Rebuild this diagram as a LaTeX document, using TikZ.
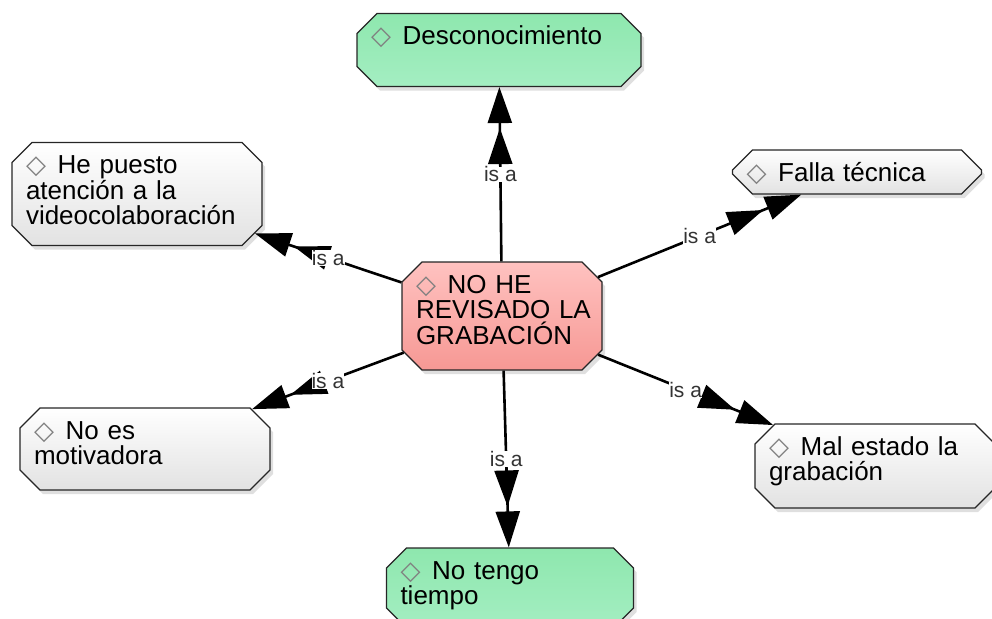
\documentclass[tikz,border=0pt]{standalone}
\usepackage{fontspec}
\setmainfont{Liberation Sans}
\newfontfamily\diafont{DejaVu Sans}
\usepackage{xcolor}
\usetikzlibrary{arrows.meta,shapes.misc,shadows}

\definecolor{grtop}{RGB}{142,231,174}
\definecolor{grbot}{RGB}{164,238,194}
\definecolor{rdtop}{RGB}{255,194,192}
\definecolor{rdbot}{RGB}{246,152,148}
\definecolor{wttop}{RGB}{255,255,255}
\definecolor{wtbot}{RGB}{226,226,226}
\newcommand{\dia}{{\diafont\color{gray}\char"25C7}\hspace{0.45em}}

\begin{document}
\begin{tikzpicture}[x=0.5pt,y=-0.5pt,
  concept/.style={chamfered rectangle, chamfered rectangle xsep=5pt,
    chamfered rectangle ysep=5pt, draw=black!85, line width=0.6pt,
    inner xsep=2pt, inner ysep=0.5pt, align=left, text height=10pt,
    font=\fontsize{13}{12.8}\selectfont,
    drop shadow={shadow xshift=1.5pt, shadow yshift=-2pt, opacity=0.25}},
  greenbox/.style={concept, top color=grtop, bottom color=grbot},
  redbox/.style={concept, top color=rdtop, bottom color=rdbot},
  greybox/.style={concept, top color=wttop, bottom color=wtbot},
  isa/.style={draw=black, line width=1.3pt,
    -{Triangle[length=18pt,width=12pt,sep=2.5pt]Triangle[length=18pt,width=12pt]}},
  isalab/.style={font=\fontsize{10.5}{11}\selectfont, text=black!80,
    fill=white, inner sep=0pt}]
  \useasboundingbox (0,0) rectangle (992,618);

  \node[redbox, text width=86pt, text depth=33pt] (rev) at (502,316)
    {\dia NO HE\\REVISADO~LA\\GRABACIÓN};
  \node[greenbox, text width=128pt, text depth=15.5pt] (desc) at (499,50)
    {\dia Desconocimiento};
  \node[greybox, text width=111pt, text depth=30.5pt] (puesto) at (137,194)
    {\dia He puesto\\atención a la\\videocolaboración};
  \node[greybox, text width=110.5pt, text depth=1pt] (falla) at (857,172)
    {\dia Falla técnica};
  \node[greybox, text width=111pt, text depth=20pt] (noes) at (145,449)
    {\dia No es\\motivadora};
  \node[greybox, text width=106pt, text depth=21pt] (mal) at (875,466)
    {\dia Mal estado la\\grabación};
  \node[greenbox, text width=109.5pt, text depth=19pt] (tiempo) at (510,588)
    {\dia No tengo\\tiempo};

  \foreach \n in {desc,puesto,falla,noes,mal,tiempo}
    \draw[isa] (rev) -- node[isalab] {is a} (\n);
\end{tikzpicture}
\end{document}
